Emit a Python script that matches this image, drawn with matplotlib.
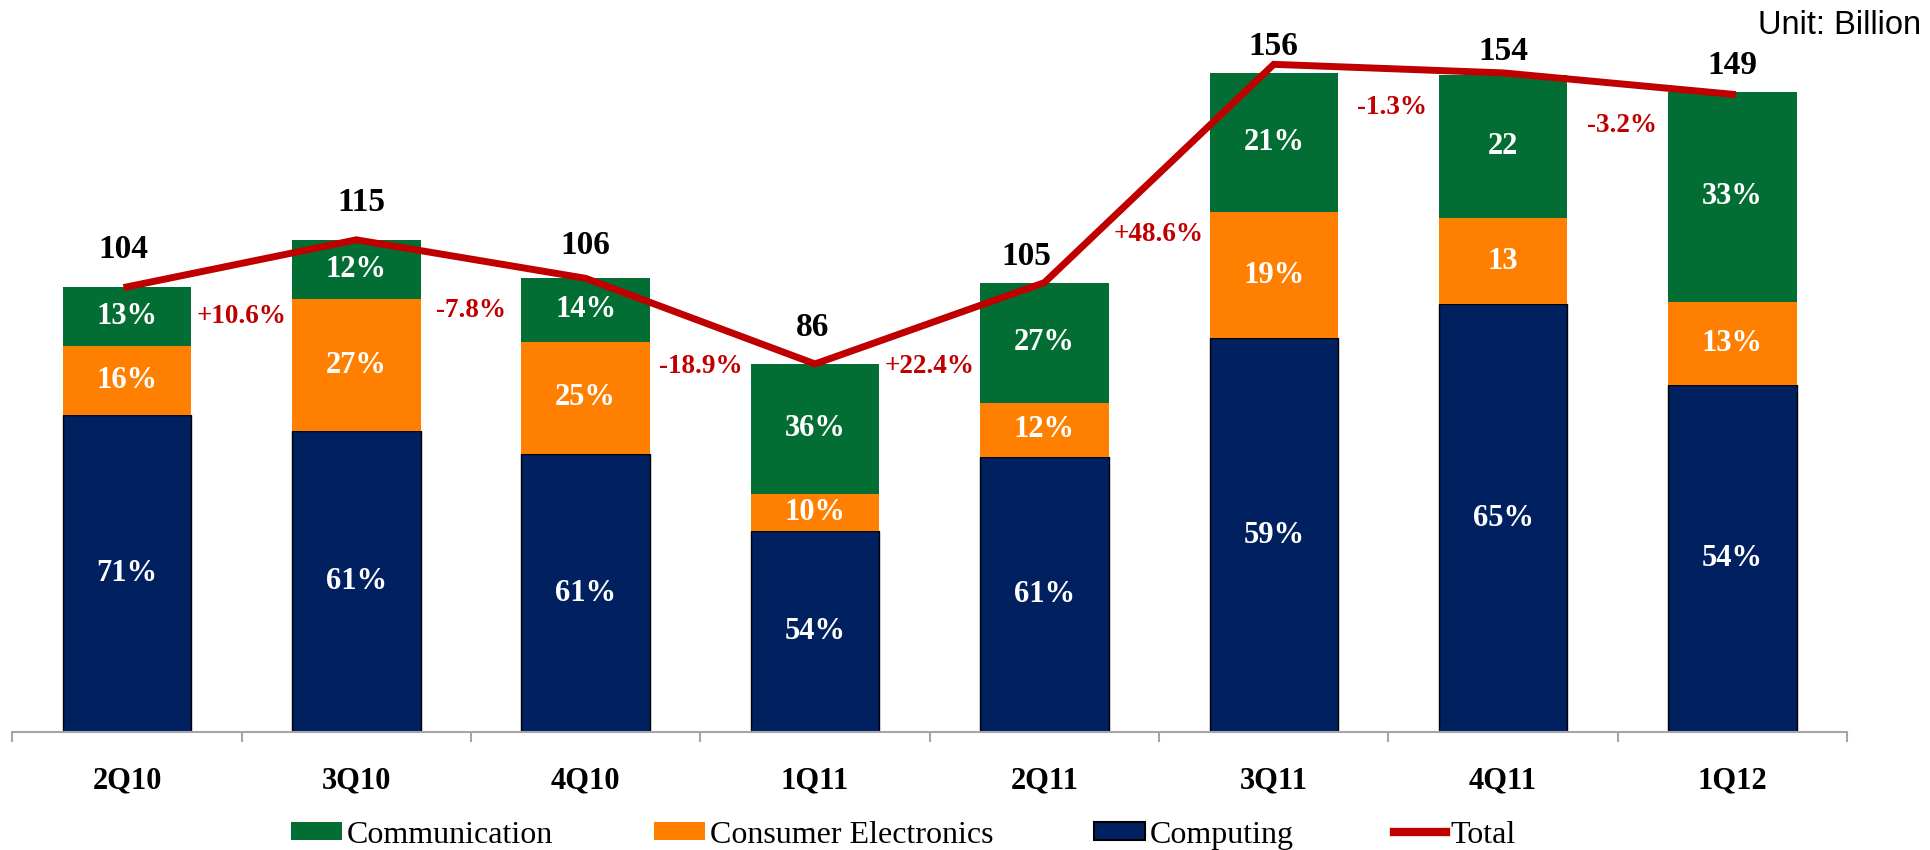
import matplotlib
matplotlib.use("Agg")
import matplotlib.pyplot as plt
from matplotlib.patches import Patch
from matplotlib.lines import Line2D
import numpy as np

# ---------------- data ----------------
quarters = ['2Q10', '3Q10', '4Q10', '1Q11', '2Q11', '3Q11', '4Q11', '1Q12']
computing = [74.0, 70.3, 64.9, 46.9, 64.3, 92.0, 100.0, 81.1]
consumer = [16.3, 30.9, 26.3, 8.6, 12.6, 29.4, 20.0, 19.4]
communication = [13.7, 13.7, 14.9, 30.6, 28.0, 32.6, 33.4, 49.1]
totals = [104, 115, 106, 86, 105, 156, 154, 149]

computing_labels = ['71%', '61%', '61%', '54%', '61%', '59%', '65%', '54%']
consumer_labels = ['16%', '27%', '25%', '10%', '12%', '19%', '13', '13%']
communication_labels = ['13%', '12%', '14%', '36%', '27%', '21%', '22', '33%']
growth_labels = ['+10.6%', '-7.8%', '-18.9%', '+22.4%', '+48.6%', '-1.3%', '-3.2%']

# ---------------- layout (label placement) ----------------
growth_y = [97.1, 98.6, 85.4, 85.4, 116.3, 146.0, 141.7]
growth_dx = [0, 0, 0, 0, 0, 4, 4]               # points
total_dy = [30, 30, 26, 29, 21, 14, 17, 23]
total_dx = [-4, 5, 0, -2, -18, 0, 0, 0]

C_COMM = '#036E33'
C_CE = '#FF8000'
C_COMP = '#00205F'
C_TOT = '#C00000'
SERIF = ['Liberation Serif', 'DejaVu Serif']

plt.rcParams['font.family'] = SERIF

fig = plt.figure(figsize=(19.31, 8.5), dpi=100)
ax = fig.add_axes([0.00637, 0.1388, 0.9502, 0.856])

x = np.arange(len(quarters))
w = 0.56
comp = np.array(computing)
ce = np.array(consumer)
cm = np.array(communication)

ax.bar(x, comp, w, color=C_COMP, edgecolor='black', linewidth=1.0, zorder=2)
ax.bar(x, ce, w, bottom=comp, color=C_CE, linewidth=0, zorder=2)
ax.bar(x, cm, w, bottom=comp + ce, color=C_COMM, linewidth=0, zorder=2)
ax.plot(x, totals, color=C_TOT, lw=5, zorder=5, solid_joinstyle='miter')

SEG_FS = 22
for i in range(len(x)):
    ax.text(x[i], comp[i] / 2, computing_labels[i], ha='center', va='center',
            color='white', fontsize=SEG_FS, fontweight='bold', zorder=6)
    ax.text(x[i], comp[i] + ce[i] / 2, consumer_labels[i], ha='center', va='center',
            color='white', fontsize=SEG_FS, fontweight='bold', zorder=6)
    ax.text(x[i], comp[i] + ce[i] + cm[i] / 2, communication_labels[i], ha='center',
            va='center', color='white', fontsize=SEG_FS, fontweight='bold', zorder=6)
    ax.annotate(str(totals[i]), (x[i], totals[i]), xytext=(total_dx[i] * 0.72, total_dy[i] * 0.9),
                textcoords='offset points', ha='center', va='center',
                fontsize=24, fontweight='bold', color='black', zorder=7)

for i, g in enumerate(growth_labels):
    ax.annotate(g, (i + 0.5, growth_y[i]), xytext=(growth_dx[i] * 0.72, 0),
                textcoords='offset points', ha='center', va='center',
                fontsize=19.5, fontweight='bold', color=C_TOT, zorder=7)

ax.set_xlim(-0.5, len(quarters) - 0.5)
ax.set_ylim(0, 170)
for s in ['top', 'right', 'left']:
    ax.spines[s].set_visible(False)
ax.spines['bottom'].set_color('#A6A6A6')
ax.spines['bottom'].set_linewidth(1.5)
ax.set_yticks([])
ax.set_xticks(x)
ax.set_xticklabels(quarters, fontsize=22, fontweight='bold')
ax.tick_params(axis='x', which='major', length=0, pad=24.5)
ax.set_xticks(np.arange(-0.5, len(quarters)), minor=True)
ax.tick_params(axis='x', which='minor', length=7, width=1.5, color='#A6A6A6', direction='out')

handles = [Patch(facecolor=C_COMM, edgecolor='none'),
           Patch(facecolor=C_CE, edgecolor='none'),
           Patch(facecolor=C_COMP, edgecolor='black', linewidth=1.5),
           Line2D([0], [0], color=C_TOT, lw=6)]
labels = ['Communication', 'Consumer Electronics', 'Computing', 'Total']
fig.legend(handles, labels, loc='center', bbox_to_anchor=(0.4678, 0.0176), ncol=4,
           frameon=False, fontsize=23, handlelength=1.6, handleheight=0.5,
           handletextpad=0.15, columnspacing=3.15, borderpad=0, borderaxespad=0)

fig.text(0.995, 0.988, 'Unit: Billion', ha='right', va='top', fontsize=23.5,
         family=['Liberation Sans', 'DejaVu Sans'])

fig.savefig('out.png', dpi=100)
